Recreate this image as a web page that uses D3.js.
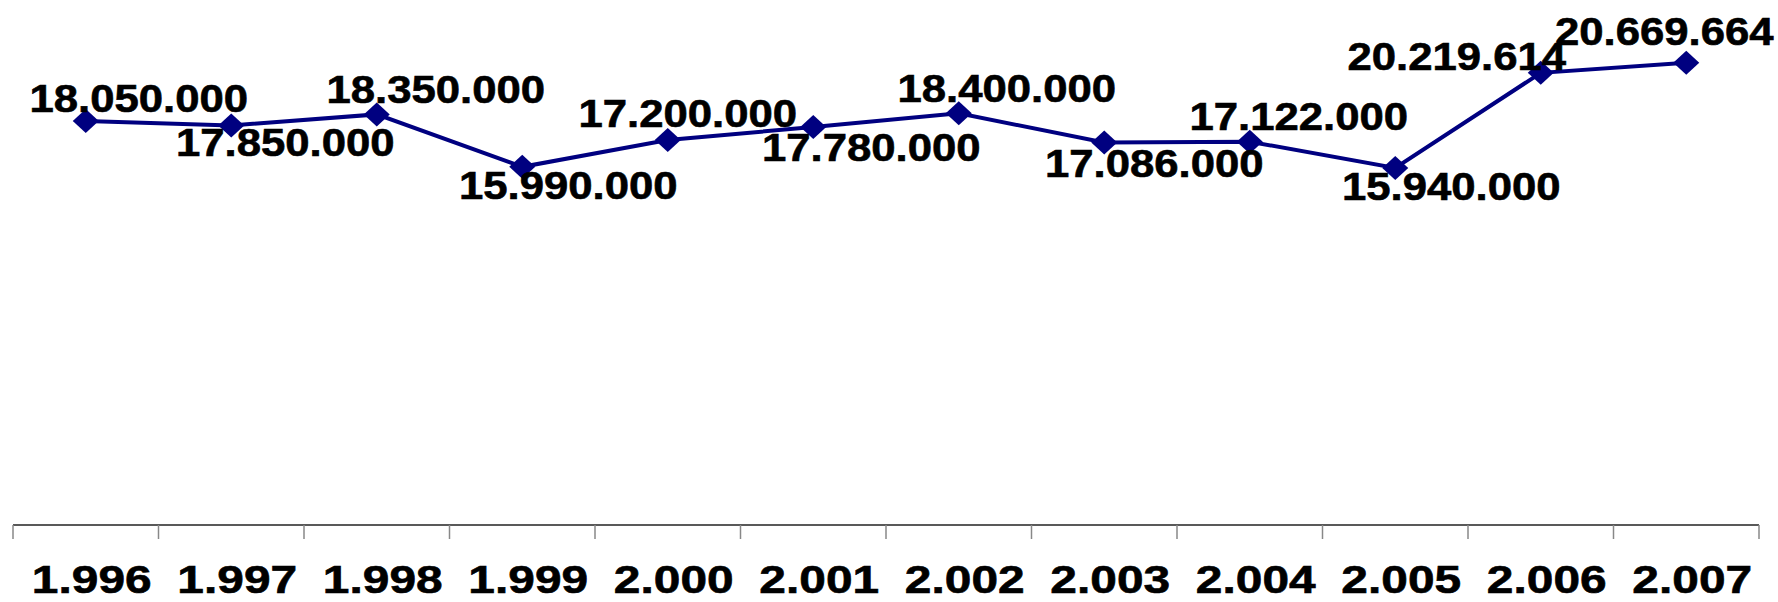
<!DOCTYPE html>
<html>
<head>
<meta charset="utf-8">
<script src="https://cdn.jsdelivr.net/npm/d3@7/dist/d3.min.js"></script>
<style>
  html, body { margin: 0; padding: 0; background: #fff; }
  svg { display: block; }
  text { font-family: "Liberation Sans", Arial, sans-serif; font-weight: bold; fill: #000; stroke: #000; stroke-width: 0.6px; }
</style>
</head>
<body>
<svg id="chart" width="1778" height="602"></svg>
<script>
// ---- data ----
const years = ["1.996","1.997","1.998","1.999","2.000","2.001","2.002","2.003","2.004","2.005","2.006","2.007"];
const values = [18050000, 17850000, 18350000, 15990000, 17200000, 17780000, 18400000, 17086000, 17122000, 15940000, 20219614, 20669664];
const valueLabels = ["18.050.000","17.850.000","18.350.000","15.990.000","17.200.000","17.780.000","18.400.000","17.086.000","17.122.000","15.940.000","20.219.614","20.669.664"];

// ---- layout (label placement relative to each point, px) ----
const labelDx = [53, 54, 59, 46, 20, 58, 48, 50, 49, 56, -84, -22];
const labelDy = [-22, 18, -24, 19, -26, 21, -24, 22, -25, 19, -16, -31];

const svg = d3.select("#chart");
const left = 13, right = 1759, axisY = 525;

const x = d3.scaleBand().domain(years).range([left, right]).padding(0);
const y = d3.scaleLinear().domain([0, 23500000]).range([522, 0]);

// axis
const axis = d3.axisBottom(x).tickSize(0).tickFormat("");
const gAxis = svg.append("g").attr("transform", `translate(0,${axisY})`).call(axis);
gAxis.select(".domain").attr("stroke", "#222").attr("stroke-width", 1.5).attr("d", `M${left},0H${right}`);
const bounds = years.map(d => x(d)).concat([x(years[years.length - 1]) + x.bandwidth()]);
svg.append("g").selectAll("line").data(bounds).join("line")
  .attr("x1", d => d).attr("x2", d => d)
  .attr("y1", axisY).attr("y2", axisY + 14)
  .attr("stroke", "#888").attr("stroke-width", 1.5);

// category labels
const tickFont = 38, tickStretch = 1.26;
svg.append("g").selectAll("text").data(years).join("text")
  .attr("transform", d => `translate(${x(d) + x.bandwidth() / 2 + 6},593) scale(${tickStretch},1)`)
  .attr("text-anchor", "middle")
  .style("font-size", tickFont + "px")
  .text(d => d);

// line
const cx = d => x(d) + x.bandwidth() / 2;
const line = d3.line().x((d, i) => cx(years[i])).y(d => y(d));
svg.append("path").datum(values)
  .attr("d", line)
  .attr("fill", "none")
  .attr("stroke", "#000080")
  .attr("stroke-width", 4);

// markers
const diamond = "M0,-12L13,0L0,12L-13,0Z";
svg.append("g").selectAll("path").data(values).join("path")
  .attr("transform", (d, i) => `translate(${cx(years[i])},${y(d)})`)
  .attr("d", diamond)
  .attr("fill", "#000080");

// value labels
const labFont = 38, labStretch = 1.15;
svg.append("g").selectAll("text").data(values).join("text")
  .attr("transform", (d, i) => `translate(${cx(years[i]) + labelDx[i]},${y(d) + labelDy[i]}) scale(${labStretch},1)`)
  .attr("text-anchor", "middle")
  .attr("dominant-baseline", "central")
  .style("font-size", labFont + "px")
  .text((d, i) => valueLabels[i]);
</script>
</body>
</html>
